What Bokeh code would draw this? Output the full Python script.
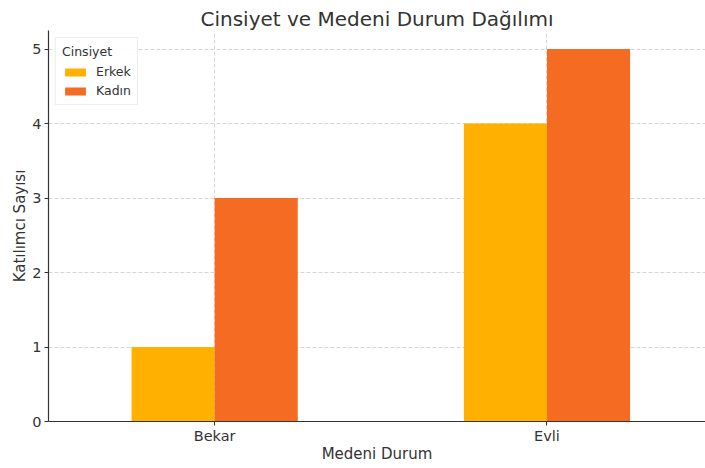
from bokeh.plotting import figure
from bokeh.models import ColumnDataSource, Range1d, FixedTicker, Legend, LegendItem
from bokeh.transform import dodge
from bokeh.embed import file_html
from bokeh.resources import INLINE

categories = ["Bekar", "Evli"]
erkek = [1, 4]
kadin = [3, 5]
series_names = ["Erkek", "Kadın"]
colors = ["#FFB000", "#F46B21"]

FONT = "DejaVu Sans"

src = ColumnDataSource(dict(x=list(range(len(categories))), erkek=erkek, kadin=kadin))

p = figure(width=705, height=468, output_backend="svg", toolbar_location=None,
           x_range=Range1d(-0.5, 1.477), y_range=Range1d(0, 5.25),
           min_border_left=48, min_border_right=0, min_border_top=30, min_border_bottom=47,
           title="Cinsiyet ve Medeni Durum Dağılımı")
p.outline_line_color = None

p.title.align = "center"
p.title.text_font = FONT
p.title.text_font_size = "20px"
p.title.text_font_style = "normal"
p.title.text_color = "#333333"
p.title.offset = 4
p.title.standoff = 0

r1 = p.vbar(x=dodge("x", -0.125), top="erkek", width=0.25, source=src,
            fill_color=colors[0], line_color=None)
r2 = p.vbar(x=dodge("x", 0.125), top="kadin", width=0.25, source=src,
            fill_color=colors[1], line_color=None)

p.xaxis.ticker = FixedTicker(ticks=list(range(len(categories))))
p.xaxis.major_label_overrides = {i: c for i, c in enumerate(categories)}
p.yaxis.ticker = FixedTicker(ticks=[0, 1, 2, 3, 4, 5])

for ax in (p.xaxis[0], p.yaxis[0]):
    ax.axis_line_color = "#333333"
    ax.axis_line_width = 1.2
    ax.major_tick_line_color = "#333333"
    ax.major_tick_out = 4
    ax.major_tick_in = 0
    ax.minor_tick_line_color = None
    ax.major_label_text_font = FONT
    ax.major_label_text_font_size = "14.5px"
    ax.major_label_text_color = "#333333"
    ax.axis_label_text_font = FONT
    ax.axis_label_text_font_size = "15px"
    ax.axis_label_text_font_style = "normal"
    ax.axis_label_text_color = "#333333"

p.xaxis.axis_label = "Medeni Durum"
p.yaxis.axis_label = "Katılımcı Sayısı"
p.xaxis.axis_label_standoff = -2
p.yaxis.axis_label_standoff = 0
p.xaxis.major_label_standoff = 2
p.yaxis.major_label_standoff = 3

for g in (p.xgrid[0], p.ygrid[0]):
    g.grid_line_color = "#cccccc"
    g.grid_line_dash = "4 2"
    g.grid_line_width = 0.8

legend = Legend(items=[LegendItem(label=series_names[0], renderers=[r1]),
                       LegendItem(label=series_names[1], renderers=[r2])],
                location="top_left", title="Cinsiyet")
legend.title_text_font = FONT
legend.title_text_font_size = "12.5px"
legend.title_text_font_style = "normal"
legend.title_text_color = "#333333"
legend.label_text_font = FONT
legend.label_text_font_size = "12.5px"
legend.label_text_color = "#333333"
legend.glyph_width = 26
legend.glyph_height = 10
legend.spacing = 4
legend.padding = 6
legend.margin = 7
legend.label_standoff = 8
legend.border_line_color = "#dddddd"
legend.background_fill_alpha = 0.9
p.add_layout(legend)

open("out.html", "w").write(file_html(p, INLINE))
